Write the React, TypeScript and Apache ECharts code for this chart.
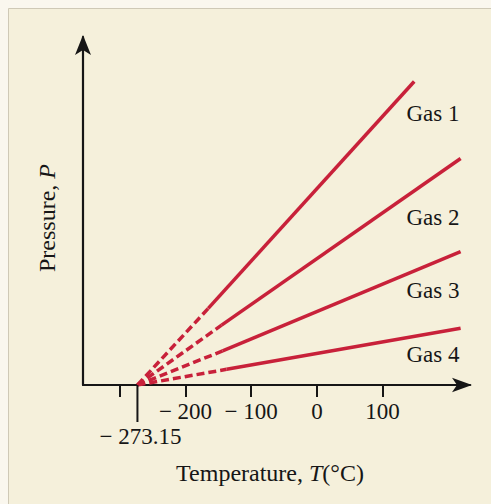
import React, { useEffect, useRef } from "react";
import * as echarts from "echarts";

const gasNames = ["Gas 1", "Gas 2", "Gas 3", "Gas 4"];
const absoluteZero = -273.15;
// where each measured (solid) segment begins
const solidStartT = [-165.4, -145.1, -143.5, -137.4];
const solidStartP = [22.0, 17.2, 9.8, 4.5];
// where each line ends
const endT = [148.1, 218.7, 218.7, 218.7];
const endP = [87.2, 65.1, 38.3, 16.3];
const tickValues = [-300, -200, -100, 0, 100];
const labelValues = [-200, -100, 0, 100];

const RED = "#c8213a";
const INK = "#161616";
const FONT = "'Liberation Serif', 'DejaVu Serif', serif";

export default function App() {
  const ref = useRef<HTMLDivElement>(null);

  useEffect(() => {
    if (!ref.current) return;
    const chart = echarts.init(ref.current, undefined, { renderer: "svg" });

    const series: any[] = [];
    gasNames.forEach((name, i) => {
      series.push({
        name: name + " (extrapolated)",
        type: "line",
        data: [
          [absoluteZero, 0],
          [solidStartT[i], solidStartP[i]],
        ],
        symbol: "none",
        lineStyle: { color: RED, width: 3.5, type: [8, 4] },
        z: 3,
      });
      series.push({
        name,
        type: "line",
        data: [
          [solidStartT[i], solidStartP[i]],
          [endT[i], endP[i]],
        ],
        symbol: "none",
        lineStyle: { color: RED, width: 3.5 },
        z: 3,
      });
    });

    const baseGraphic: any[] = [
      {
        type: "rect",
        shape: { x: 8.5, y: 8.5, width: 520, height: 520 },
        style: { fill: "#f5f0db", stroke: "#cfc9b6", lineWidth: 1 },
        z: -10,
        silent: true,
      },
    ];

    const option: any = {
      animation: false,
      backgroundColor: "#faf7ee",
      grid: { left: 83, right: 21, top: 37, bottom: 119, containLabel: false },
      xAxis: {
        type: "value",
        min: -356,
        max: 233,
        splitLine: { show: false },
        axisLine: {
          onZero: false,
          lineStyle: { color: INK, width: 2.2 },
          symbol: ["none", "arrow"],
          symbolSize: [11, 20],
          symbolOffset: [0, 2],
        },
        axisTick: {
          show: true,
          customValues: tickValues,
          length: 12,
          lineStyle: { color: INK, width: 2 },
        },
        axisLabel: {
          customValues: labelValues,
          formatter: (v: number) => (v < 0 ? "\u2212 " + Math.abs(v) : String(v)),
          fontFamily: FONT,
          fontSize: 23,
          color: INK,
          margin: 15,
        },
      },
      yAxis: {
        type: "value",
        min: 0,
        max: 100,
        splitLine: { show: false },
        axisLine: {
          show: true,
          onZero: false,
          lineStyle: { color: INK, width: 2.2 },
          symbol: ["none", "arrow"],
          symbolSize: [12, 20],
          symbolOffset: [0, 2],
        },
        axisTick: { show: false },
        axisLabel: { show: false },
      },
      series,
      graphic: baseGraphic,
    };
    chart.setOption(option);

    const zx = chart.convertToPixel({ xAxisIndex: 0 }, absoluteZero) as number;
    const y0 = chart.convertToPixel({ yAxisIndex: 0 }, 0) as number;

    const rich = {
      a: { fontFamily: FONT, fontSize: 24, fill: INK, color: INK },
      i: { fontFamily: FONT, fontSize: 24, fontStyle: "italic", fill: INK, color: INK },
    };

    const extra: any[] = [
      ...baseGraphic,
      {
        type: "line",
        shape: { x1: zx, y1: y0, x2: zx, y2: y0 + 37 },
        style: { stroke: INK, lineWidth: 2 },
        z: 5,
      },
      {
        type: "text",
        x: zx + 3,
        y: y0 + 51,
        style: {
          text: "\u2212 273.15",
          font: `23px ${FONT}`,
          fill: INK,
          align: "center",
          verticalAlign: "middle",
        },
      },
      {
        type: "text",
        x: 270,
        y: 473,
        style: {
          text: "{a|Temperature, }{i|T}{a|(°C)}",
          align: "center",
          verticalAlign: "middle",
          rich,
        },
      },
      {
        type: "text",
        x: 47,
        y: 218,
        rotation: Math.PI / 2,
        style: {
          text: "{a|Pressure, }{i|P}",
          align: "center",
          verticalAlign: "middle",
          rich,
        },
      },
    ];
    const labelY = [113, 217, 290, 354];
    gasNames.forEach((name, i) => {
      extra.push({
        type: "text",
        x: 433,
        y: labelY[i],
        style: {
          text: name,
          font: `23px ${FONT}`,
          fill: INK,
          align: "center",
          verticalAlign: "middle",
        },
      });
    });
    chart.setOption({ graphic: extra }, { replaceMerge: ["graphic"] });

    return () => chart.dispose();
  }, []);

  return (
    <div
      ref={ref}
      style={{ position: "fixed", left: 0, top: 0, width: 491, height: 504 }}
    />
  );
}
